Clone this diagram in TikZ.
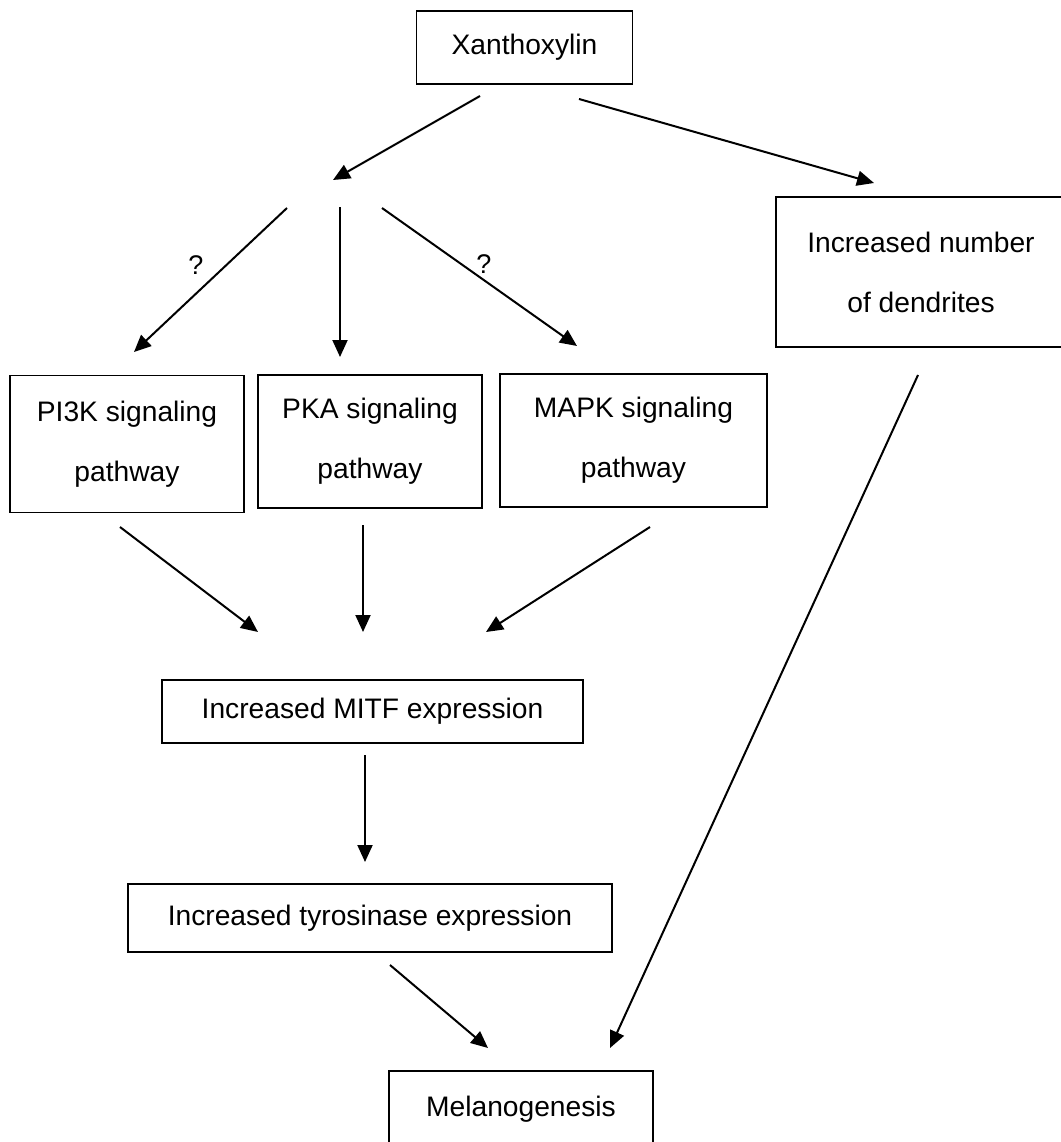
\documentclass[tikz,border=0pt]{standalone}
\usepackage{fontspec}
\setmainfont{Liberation Sans}
\usetikzlibrary{arrows.meta}
\begin{document}
\begin{tikzpicture}[x=1pt,y=-1pt,
  box/.style={draw, line width=1.5pt, rectangle, inner sep=0pt, align=center},
  arr/.style={line width=2pt, -{Triangle[length=17pt,width=15pt]}},
  lbl/.style={font=\fontsize{27}{30}\selectfont},
  every node/.style={font=\fontsize{28.2}{60}\selectfont}]
\useasboundingbox (0,0) rectangle (1060,1142);
% boxes
\node[box, minimum width=216pt, minimum height=73pt] (x) at (524.5,47.5) {Xanthoxylin};
\node[box, minimum width=290pt, minimum height=150pt] (d) at (921,272) {Increased number\\of dendrites};
\node[box, minimum width=234pt, minimum height=137pt] (pi) at (127,444) {PI3K signaling\\pathway};
\node[box, minimum width=224pt, minimum height=133pt] (pka) at (370,441.5) {PKA signaling\\pathway};
\node[box, minimum width=267pt, minimum height=133pt] (mapk) at (633.5,440.5) {MAPK signaling\\pathway};
\node[box, minimum width=421pt, minimum height=63pt] (mitf) at (372.5,711.5) {Increased MITF expression};
\node[box, minimum width=484pt, minimum height=68pt] (tyr) at (370,918) {Increased tyrosinase expression};
\node[box, minimum width=264pt, minimum height=76pt] (mel) at (521,1109) {Melanogenesis};
% free coordinates
\coordinate (xa) at (480,96);
\coordinate (xb) at (579,99);
\coordinate (j) at (333,180);
\coordinate (dtip) at (874,183);
\coordinate (j1) at (287,208);
\coordinate (j2) at (340,207);
\coordinate (j3) at (382,208);
\coordinate (t1) at (134,352);
\coordinate (t2) at (340,357);
\coordinate (t3) at (577,346);
\coordinate (p1) at (120,527);
\coordinate (p2) at (363,525);
\coordinate (p3) at (650,527);
\coordinate (m1) at (258,632);
\coordinate (m2) at (363,632);
\coordinate (m3) at (486,632);
\coordinate (ma) at (365,755);
\coordinate (mb) at (365,862);
\coordinate (ta) at (390,965);
\coordinate (tb) at (488,1048);
\coordinate (da) at (918,375);
\coordinate (db) at (610,1048);
% connectors
\draw[arr] (xa) -- (j);
\draw[arr] (xb) -- (dtip);
\draw[arr] (j1) -- (t1);
\draw[arr] (j2) -- (t2);
\draw[arr] (j3) -- (t3);
\draw[arr] (p1) -- (m1);
\draw[arr] (p2) -- (m2);
\draw[arr] (p3) -- (m3);
\draw[arr] (ma) -- (mb);
\draw[arr] (ta) -- (tb);
\draw[arr] (da) -- (db);
\node[lbl] (q1) at (196,265) {?};
\node[lbl] (q2) at (484,264) {?};
\end{tikzpicture}
\end{document}
